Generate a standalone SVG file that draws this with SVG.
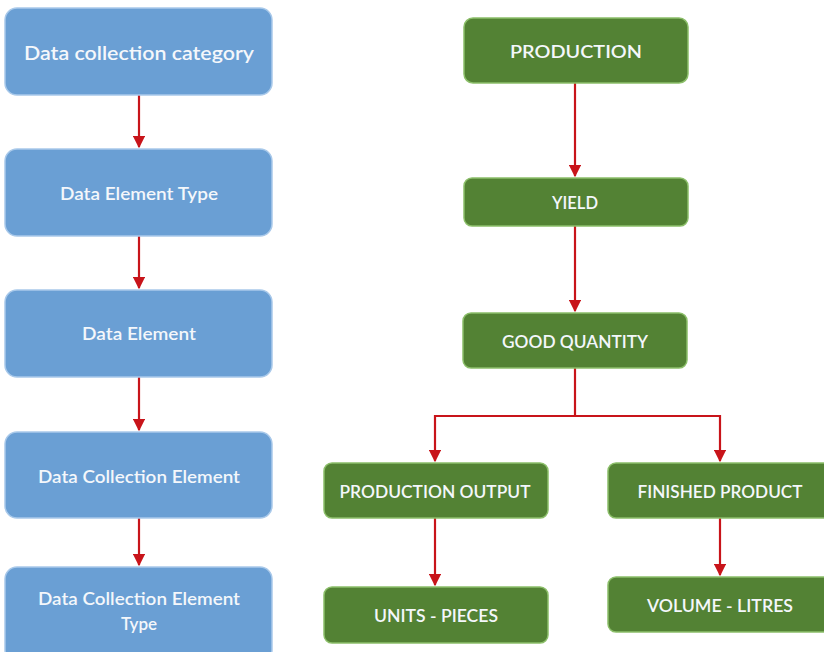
<svg xmlns="http://www.w3.org/2000/svg" width="824" height="652" viewBox="0 0 824 652">
<defs>
<style>
.blue{fill:#6a9fd4;stroke:#a9c9ea;stroke-width:1.5}
.green{fill:#538234;stroke:#8cbf6a;stroke-width:1.5}
.t{font-family:Lato,"Noto Sans",sans-serif;font-weight:600;fill:#f4f7fb;text-anchor:middle;dominant-baseline:central}
.bt{font-size:17px}
.gt{font-size:17px}
.conn{stroke:#c8141a;stroke-width:2.2;fill:none}
</style>
<marker id="ah" viewBox="0 0 10 10" refX="9" refY="5" markerWidth="5.5" markerHeight="5.5" orient="auto" markerUnits="strokeWidth">
<path d="M0,0 L10,5 L0,10 z" fill="#c8141a"/>
</marker>
</defs>
<rect width="824" height="652" fill="#ffffff"/>
<g id="connectors">
<path class="conn" d="M139,95 V147" marker-end="url(#ah)"/>
<path class="conn" d="M139,236 V288" marker-end="url(#ah)"/>
<path class="conn" d="M139,377 V430" marker-end="url(#ah)"/>
<path class="conn" d="M139,518 V565" marker-end="url(#ah)"/>
<path class="conn" d="M575,83 V176" marker-end="url(#ah)"/>
<path class="conn" d="M575,226 V311" marker-end="url(#ah)"/>
<path class="conn" d="M575,368 V416 H435 V461" marker-end="url(#ah)"/>
<path class="conn" d="M575,416 H720 V461" marker-end="url(#ah)"/>
<path class="conn" d="M435,518 V585" marker-end="url(#ah)"/>
<path class="conn" d="M720,518 V575" marker-end="url(#ah)"/>
</g>
<g id="n1"><rect class="blue" x="5" y="8" width="267" height="87" rx="12"/><text class="t" x="139" y="52" font-size="20" textLength="230" lengthAdjust="spacingAndGlyphs">Data collection category</text></g>
<g id="n2"><rect class="blue" x="5" y="149" width="267" height="87" rx="12"/><text class="t bt" x="139" y="193" textLength="158" lengthAdjust="spacingAndGlyphs">Data Element Type</text></g>
<g id="n3"><rect class="blue" x="5" y="290" width="267" height="87" rx="12"/><text class="t bt" x="139" y="333" textLength="114" lengthAdjust="spacingAndGlyphs">Data Element</text></g>
<g id="n4"><rect class="blue" x="5" y="432" width="267" height="86" rx="12"/><text class="t bt" x="139" y="476" textLength="202" lengthAdjust="spacingAndGlyphs">Data Collection Element</text></g>
<g id="n5"><rect class="blue" x="5" y="567" width="267" height="95" rx="12"/><text class="t bt" x="139" y="598" textLength="202" lengthAdjust="spacingAndGlyphs">Data Collection Element</text><text class="t bt" x="139" y="623">Type</text></g>
<g id="g1"><rect class="green" x="464" y="18" width="224" height="65" rx="9"/><text class="t" x="576" y="51" font-size="18" textLength="132" lengthAdjust="spacingAndGlyphs">PRODUCTION</text></g>
<g id="g2"><rect class="green" x="464" y="178" width="224" height="48" rx="8"/><text class="t gt" x="575" y="202" textLength="46" lengthAdjust="spacingAndGlyphs">YIELD</text></g>
<g id="g3"><rect class="green" x="463" y="313" width="224" height="55" rx="8"/><text class="t gt" x="575" y="341" textLength="146" lengthAdjust="spacingAndGlyphs">GOOD QUANTITY</text></g>
<g id="g4"><rect class="green" x="324" y="463" width="224" height="55" rx="8"/><text class="t gt" x="435" y="491" textLength="191" lengthAdjust="spacingAndGlyphs">PRODUCTION OUTPUT</text></g>
<g id="g5"><rect class="green" x="608" y="463" width="226" height="55" rx="8"/><text class="t gt" x="720" y="491" textLength="165" lengthAdjust="spacingAndGlyphs">FINISHED PRODUCT</text></g>
<g id="g6"><rect class="green" x="324" y="587" width="224" height="56" rx="8"/><text class="t gt" x="436" y="615" textLength="124" lengthAdjust="spacingAndGlyphs">UNITS - PIECES</text></g>
<g id="g7"><rect class="green" x="608" y="577" width="226" height="55" rx="8"/><text class="t gt" x="720" y="605" textLength="146" lengthAdjust="spacingAndGlyphs">VOLUME - LITRES</text></g>
</svg>
